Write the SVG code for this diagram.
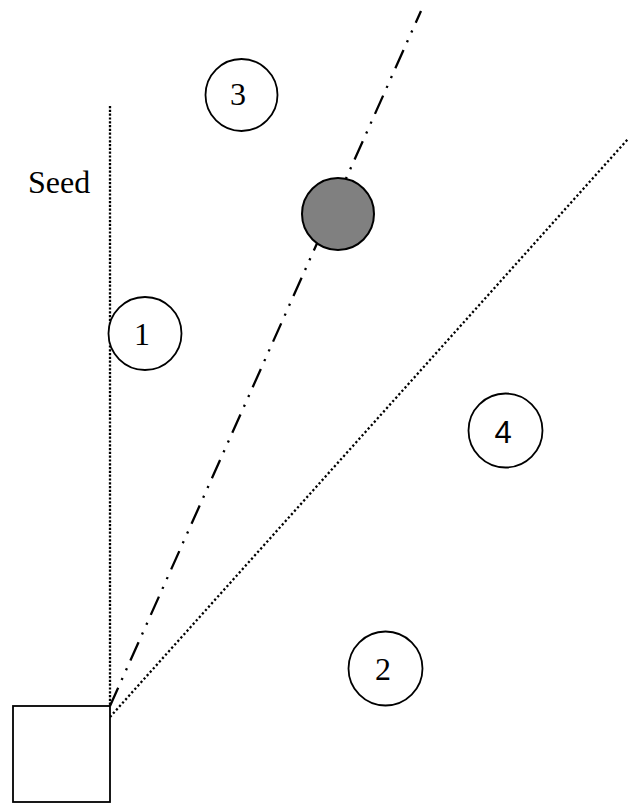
<svg xmlns="http://www.w3.org/2000/svg" width="628" height="803" viewBox="0 0 628 803">
<style>
.node{fill:#fff;stroke:#000;stroke-width:1.8}
.lbl{font-family:"Liberation Serif","Times New Roman",serif;font-size:32px;fill:#000}
.lbls{font-family:"Liberation Sans",Arial,sans-serif;font-size:31px;fill:#000}
.dot{fill:none;stroke:#000;stroke-width:2.3}
</style>
<rect width="628" height="803" fill="#fff"/>
<g id="connectors">
<line class="dot" x1="110" y1="106" x2="110" y2="706" stroke-dasharray="2.2 1.6"/>
<line class="dot" x1="110" y1="706" x2="421" y2="11" stroke-dasharray="20 8.5 2.2 8.5 2.2 8.5"/>
<line class="dot" x1="110" y1="717" x2="628" y2="139" stroke-dasharray="2.2 2.4"/>
</g>
<g id="seed-label"><text class="lbl" x="28" y="193">Seed</text></g>
<g id="source"><rect class="node" x="13" y="706" width="97" height="96" stroke-width="2"/></g>
<g id="target"><circle cx="338" cy="214" r="36" fill="#808080" stroke="#000" stroke-width="2"/></g>
<g id="node1"><circle class="node" cx="145" cy="333.5" r="36.5"/><text class="lbl" x="142" y="345" text-anchor="middle">1</text></g>
<g id="node2"><circle class="node" cx="385.5" cy="668.5" r="37"/><text class="lbl" x="383" y="680" text-anchor="middle">2</text></g>
<g id="node3"><circle class="node" cx="241.5" cy="95" r="36"/><text class="lbl" x="238" y="105" text-anchor="middle">3</text></g>
<g id="node4"><circle class="node" cx="505.5" cy="430.5" r="37"/><text class="lbls" x="503" y="443" text-anchor="middle">4</text></g>
</svg>
